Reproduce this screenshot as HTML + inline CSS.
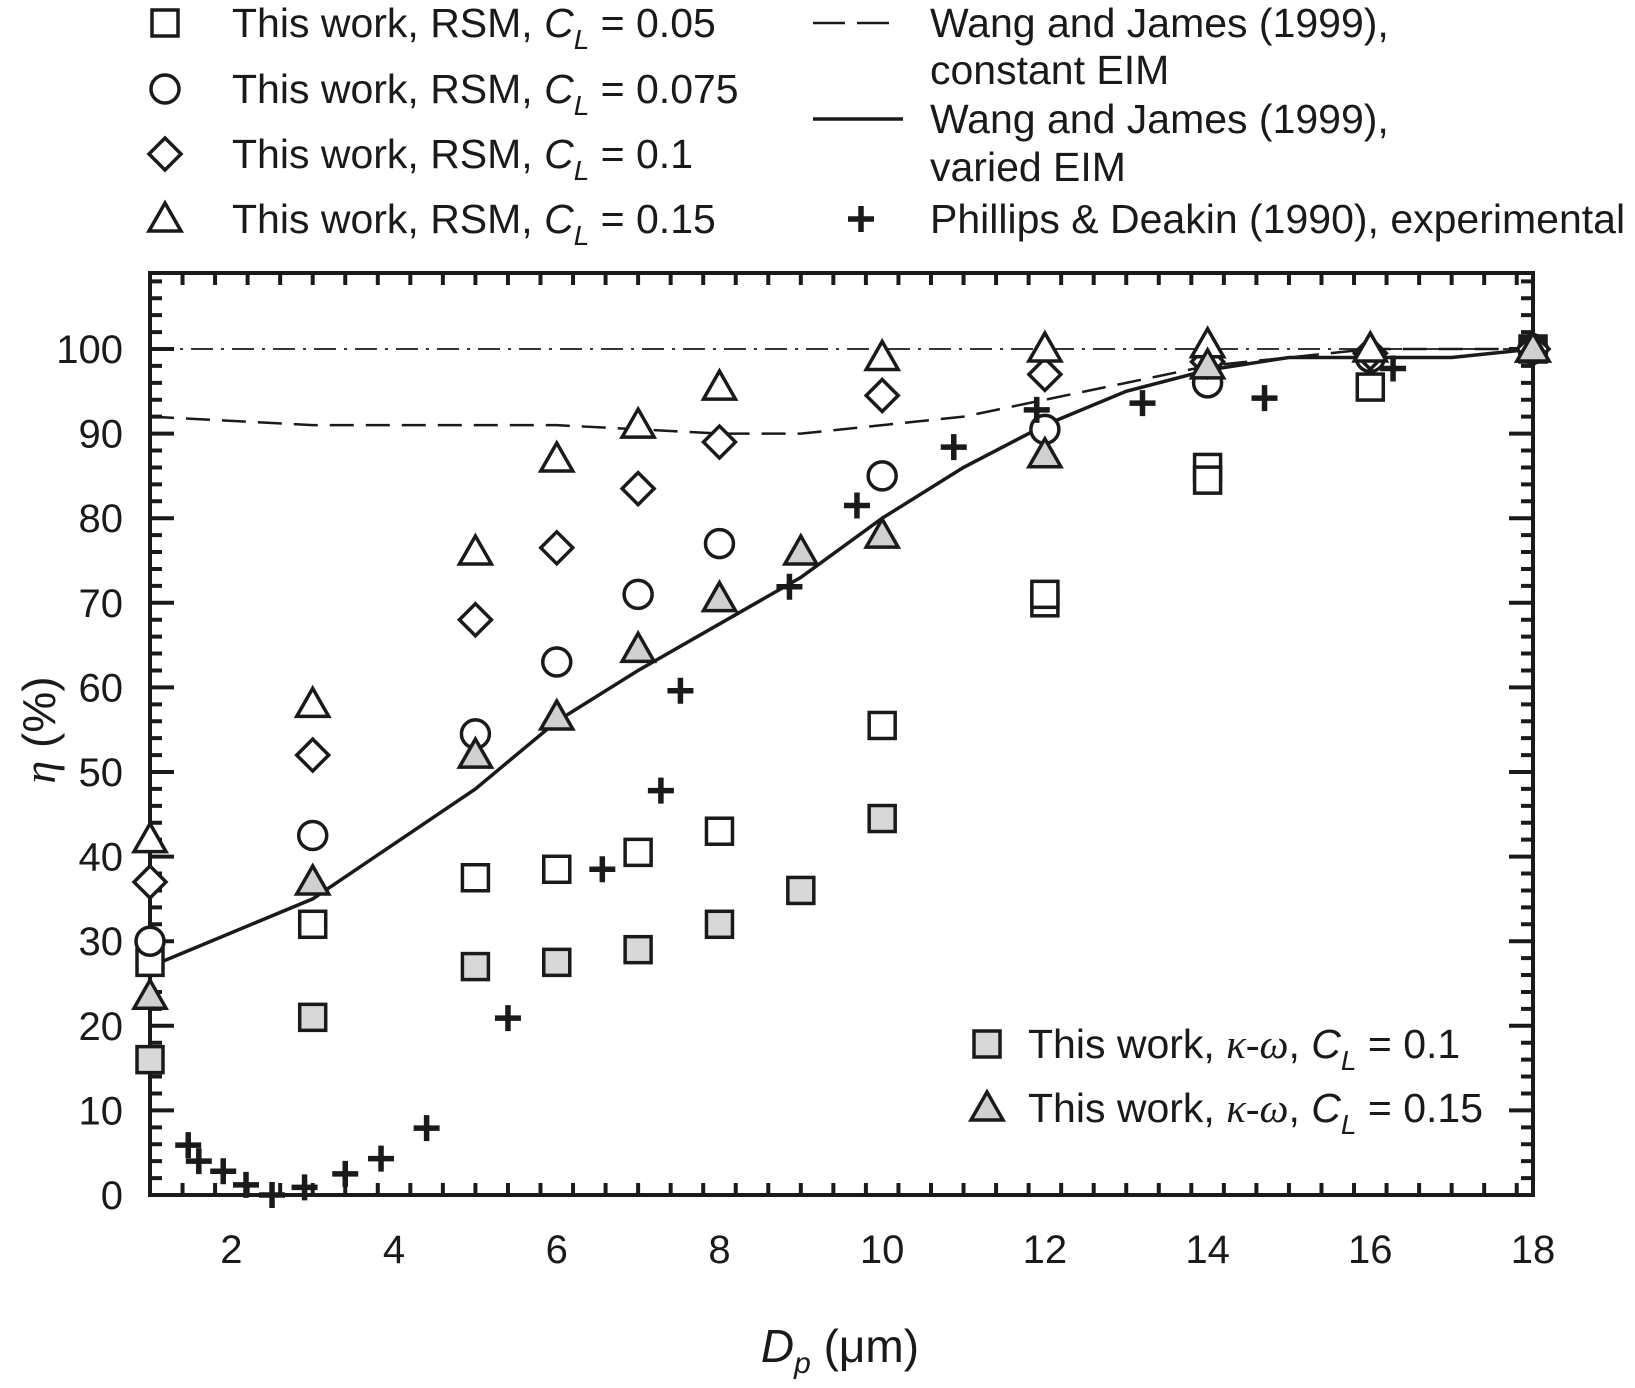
<!DOCTYPE html>
<html><head><meta charset="utf-8"><style>
body{margin:0;background:#fff}
svg text{font-family:"Liberation Sans",Arial,sans-serif;fill:#1a1a1a}
</style></head><body>
<svg id="chart" width="1635" height="1383" viewBox="0 0 1635 1383" xmlns="http://www.w3.org/2000/svg">
<g id="legend"></g>
<g id="axes"></g>
<g id="marks"></g>
</svg>
<script>
const xTicks=[2,4,6,8,10,12,14,16,18];
const yTicks=[0,10,20,30,40,50,60,70,80,90,100];
const sqRSM=[[1,27.5],[3,32],[5,37.5],[6,38.5],[7,40.5],[8,43],[10,55.5],[12,70],[12,71],[14,86],[14,84.5],[16,95.5],[18,100]];
const sqKW=[[1,16],[3,21],[5,27],[6,27.5],[7,29],[8,32],[9,36],[10,44.5]];
const circRSM=[[1,30],[3,42.5],[5,54.5],[6,63],[7,71],[8,77],[10,85],[12,90.5],[14,96],[16,99],[18,100]];
const diaRSM=[[1,37],[3,52],[5,68],[6,76.5],[7,83.5],[8,89],[10,94.5],[12,97],[14,98.5],[16,99.5],[18,100]];
const triRSM=[[1,42],[3,58],[5,76],[6,87],[7,91],[8,95.5],[10,99],[12,100],[14,100.5],[16,100],[18,100]];
const triKW=[[1,23.5],[3,37],[5,52],[6,56.5],[7,64.5],[8,70.5],[9,76],[10,78],[12,87.5],[14,98],[18,100]];
const plusExp=[[1.47,5.9],[1.6,4],[1.9,2.8],[2.18,1.2],[2.5,0],[2.9,0.9],[3.4,2.5],[3.84,4.3],[4.4,7.9],[5.4,20.9],[6.56,38.5],[7.28,47.8],[7.52,59.6],[8.86,71.9],[9.69,81.5],[10.88,88.4],[11.9,92.8],[13.2,93.6],[14.7,94.2],[16.28,97.7]];
const lineVaried=[[1,27],[2,31],[3,35],[4,41.5],[5,48],[6,56],[7,62],[8,67.5],[9,73],[10,80],[11,86],[12,91],[13,95],[14,97.5],[15,99],[16,99],[17,99],[18,100]];
const lineConst=[[1,92],[2,91.5],[3,91],[4,91],[5,91],[6,91],[7,90.5],[8,90],[9,90],[10,91],[11,92],[12,94],[13,96],[14,98],[15,99],[16,100],[18,100]];
const refLine=[[1,100],[18,100]];

const NS='http://www.w3.org/2000/svg';
const L=150,R=1533,T=273,B=1195;
const X=v=>L+(v-1)*(R-L)/17;
const Y=v=>B-v*8.46;
function mk(tag,at,parent){const e=document.createElementNS(NS,tag);for(const k in at)e.setAttribute(k,at[k]);parent.appendChild(e);return e;}
const axes=document.getElementById('axes'),marks=document.getElementById('marks'),leg=document.getElementById('legend');
const ink='#1a1a1a';

function poly(data,dash,w,name){const p=mk('polyline',{points:data.map(d=>X(d[0])+','+Y(d[1])).join(' '),fill:'none',stroke:ink,'stroke-width':w,'stroke-dasharray':dash},marks);

}
poly(refLine,'22,8,3,8',1.8,'reference-line-100');
poly(lineConst,'24,12',2.5,'line-constant-eim');
poly(lineVaried,'none',3.5,'line-varied-eim');

function marker(type,cx,cy,parent,name){
 let e;const s=13,sw=3.5;
 if(type==='sq'||type==='sqg')e=mk('rect',{x:cx-s,y:cy-s,width:2*s,height:2*s,fill:type==='sqg'?'#d8d8d8':'#fff',stroke:ink,'stroke-width':sw},parent);
 else if(type==='circ')e=mk('circle',{cx:cx,cy:cy,r:14,fill:'#fff',stroke:ink,'stroke-width':sw},parent);
 else if(type==='dia')e=mk('polygon',{points:`${cx},${cy-16} ${cx+16},${cy} ${cx},${cy+16} ${cx-16},${cy}`,fill:'#fff',stroke:ink,'stroke-width':sw},parent);
 else if(type==='tri'||type==='trig')e=mk('polygon',{points:`${cx},${cy-16} ${cx+16},${cy+12} ${cx-16},${cy+12}`,fill:type==='trig'?'#d0d0d0':'#fff',stroke:ink,'stroke-width':sw},parent);
 else e=mk('path',{d:`M${cx-13},${cy}H${cx+13}M${cx},${cy-13}V${cy+13}`,stroke:ink,'stroke-width':5.5,fill:'none'},parent);
 
 
}
function series(data,type,name){data.forEach(d=>marker(type,X(d[0]),Y(d[1]),marks,name));}
series(sqRSM,'sq','point-rsm-cl005');
series(sqKW,'sqg','point-kw-cl01');
series(circRSM,'circ','point-rsm-cl0075');
series(diaRSM,'dia','point-rsm-cl01');
series(triRSM,'tri','point-rsm-cl015');
series(triKW,'trig','point-kw-cl015');
series(plusExp,'plus','point-experimental');

const fr=mk('rect',{x:L,y:T,width:R-L,height:B-T,fill:'none',stroke:ink,'stroke-width':4},axes);


let tk='';
for(let v=1.4;v<18;v+=0.4){const x=X(v);const maj=Math.abs(v/2-Math.round(v/2))<0.01;const len=maj?22:12;tk+=`M${x},${B}v${-len}M${x},${T}v${len}`;}
for(let v=2;v<110;v+=2){const y=Y(v);if(y<=T+2)break;const maj=v%10===0;const len=maj?24:12;tk+=`M${L},${y}h${len}M${R},${y}h${-len}`;}
const tp=mk('path',{d:tk,stroke:ink,'stroke-width':4,fill:'none'},axes);


xTicks.forEach(v=>{const t=mk('text',{x:X(v),y:1263,'font-size':40,'text-anchor':'middle'},axes);t.textContent=v;

});
yTicks.forEach(v=>{const t=mk('text',{x:123,y:Y(v)+14,'font-size':40,'text-anchor':'end'},axes);t.textContent=v;

});
const xt=mk('text',{x:840,y:1362,'font-size':46,'text-anchor':'middle'},axes);
xt.innerHTML='<tspan font-style="italic">D</tspan><tspan font-style="italic" font-size="30" dy="11">p</tspan><tspan dy="-11"> (μm)</tspan>';


const yt=mk('text',{x:0,y:0,'font-size':46,'text-anchor':'middle',transform:'translate(55,730) rotate(-90)'},axes);
yt.innerHTML='<tspan font-style="italic" font-family="Liberation Serif">η</tspan> (%)';



function ltext(x,y,html,name){const t=mk('text',{x:x,y:y+14,'font-size':41},leg);t.innerHTML=html;

}
const cl=v=>`, <tspan font-style="italic">C</tspan><tspan font-style="italic" font-size="28" dy="12">L</tspan><tspan dy="-12"> = ${v}</tspan>`;
const rows=[['sq','0.05',23],['circ','0.075',89],['dia','0.1',154],['tri','0.15',219]];
rows.forEach(r=>{marker(r[0],165,r[2],leg,'legend-marker');ltext(232,r[2],'This work, RSM'+cl(r[1]),'legend-entry');});
const ld=mk('path',{d:'M813,23h32M857,23h32',stroke:ink,'stroke-width':2.5},leg);


const ls=mk('path',{d:'M813,119h90',stroke:ink,'stroke-width':3.5},leg);


ltext(930,23,'Wang and James (1999),','legend-entry');
ltext(930,70,'constant EIM','legend-entry');
ltext(930,119,'Wang and James (1999),','legend-entry');
ltext(930,167,'varied EIM','legend-entry');
marker('plus',861,219,leg,'legend-marker');
ltext(930,219,'Phillips &amp; Deakin (1990), experimental','legend-entry');
marker('sqg',987,1044,leg,'legend-marker');
ltext(1028,1044,'This work, <tspan font-style="italic" font-family="Liberation Serif">κ-ω</tspan>'+cl('0.1'),'legend-entry');
marker('trig',987,1108,leg,'legend-marker');
ltext(1028,1108,'This work, <tspan font-style="italic" font-family="Liberation Serif">κ-ω</tspan>'+cl('0.15'),'legend-entry');
</script>
</body></html>
